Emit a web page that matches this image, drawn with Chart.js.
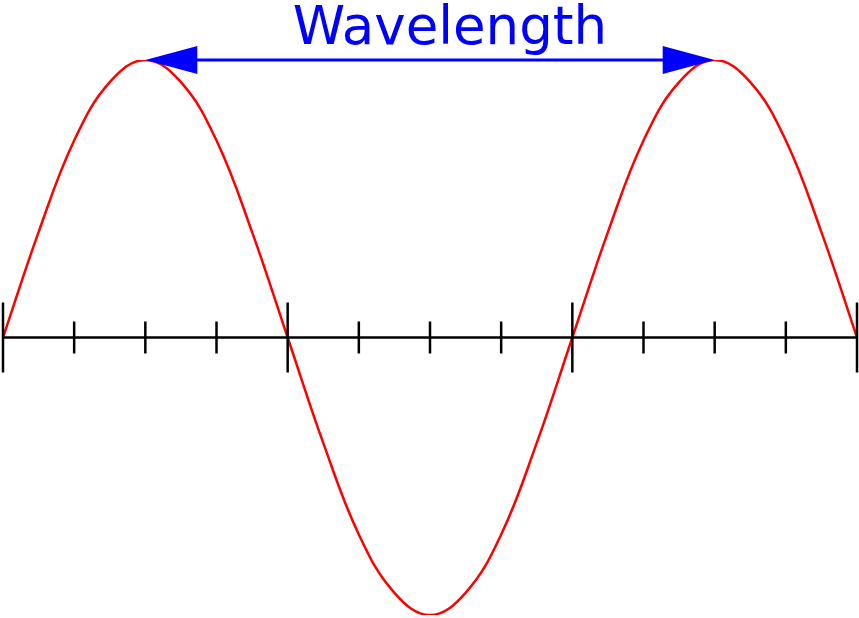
<!DOCTYPE html>
<html><head><meta charset="utf-8">
<script src="https://cdn.jsdelivr.net/npm/chart.js@4"></script>
<style>html,body{margin:0;padding:0;background:#fff}#w{width:859px;height:618px}</style>
</head><body><div id="w"><canvas id="c"></canvas></div>
<script>
const xValues=[0,0.5,1,1.5,2,2.5,3,3.5,4,4.5,5,5.5,6,6.5,7,7.5,8,8.5,9,9.5,10,10.5,11,11.5,12];
const waveValues=[0,0.38,0.71,0.92,1,0.92,0.71,0.38,0,-0.38,-0.71,-0.92,-1,-0.92,-0.71,-0.38,0,0.38,0.71,0.92,1,0.92,0.71,0.38,0];
const majorTicks=[0,4,8,12];
const minorTicks=[1,2,3,5,6,7,9,10,11];
const arrowFrom=2, arrowTo=10, arrowLevel=1;
const labelText="Wavelength";

const deco={id:'deco',afterDatasetsDraw(ch){
  const c=ch.ctx,xs=ch.scales.x,ys=ch.scales.y;
  const y0=ys.getPixelForValue(0);
  c.save();c.strokeStyle='#000';c.lineWidth=2.5;
  c.beginPath();c.moveTo(xs.getPixelForValue(0),y0);c.lineTo(xs.getPixelForValue(12),y0);c.stroke();
  minorTicks.forEach(v=>{const x=xs.getPixelForValue(v);c.beginPath();c.moveTo(x,y0-16);c.lineTo(x,y0+16);c.stroke();});
  majorTicks.forEach(v=>{const x=xs.getPixelForValue(v);c.beginPath();c.moveTo(x,y0-35);c.lineTo(x,y0+35);c.stroke();});
  const ya=ys.getPixelForValue(arrowLevel),xa=xs.getPixelForValue(arrowFrom),xb=xs.getPixelForValue(arrowTo);
  c.strokeStyle='#0000ff';c.fillStyle='#0000ff';c.lineWidth=3;
  c.beginPath();c.moveTo(xa+40,ya);c.lineTo(xb-40,ya);c.stroke();
  c.beginPath();c.moveTo(xa,ya);c.lineTo(xa+52,ya-14);c.lineTo(xa+52,ya+14);c.closePath();c.fill();
  c.beginPath();c.moveTo(xb,ya);c.lineTo(xb-52,ya-14);c.lineTo(xb-52,ya+14);c.closePath();c.fill();
  c.font='53px "DejaVu Sans"';c.textAlign='center';c.textBaseline='alphabetic';
  c.fillText(labelText,450,44);
  c.restore();
}};

new Chart(document.getElementById('c'),{
  type:'line',
  data:{datasets:[{data:xValues.map((x,i)=>({x,y:waveValues[i]})),borderColor:'#ff0000',borderWidth:2.5,pointRadius:0,tension:0.4,fill:false}]},
  options:{responsive:true,maintainAspectRatio:false,animation:false,
    layout:{padding:{left:3,right:2,top:60,bottom:3}},
    plugins:{legend:{display:false},tooltip:{enabled:false}},
    scales:{x:{type:'linear',min:0,max:12,display:false},y:{min:-1,max:1,display:false}}},
  plugins:[deco]
});
</script></body></html>
